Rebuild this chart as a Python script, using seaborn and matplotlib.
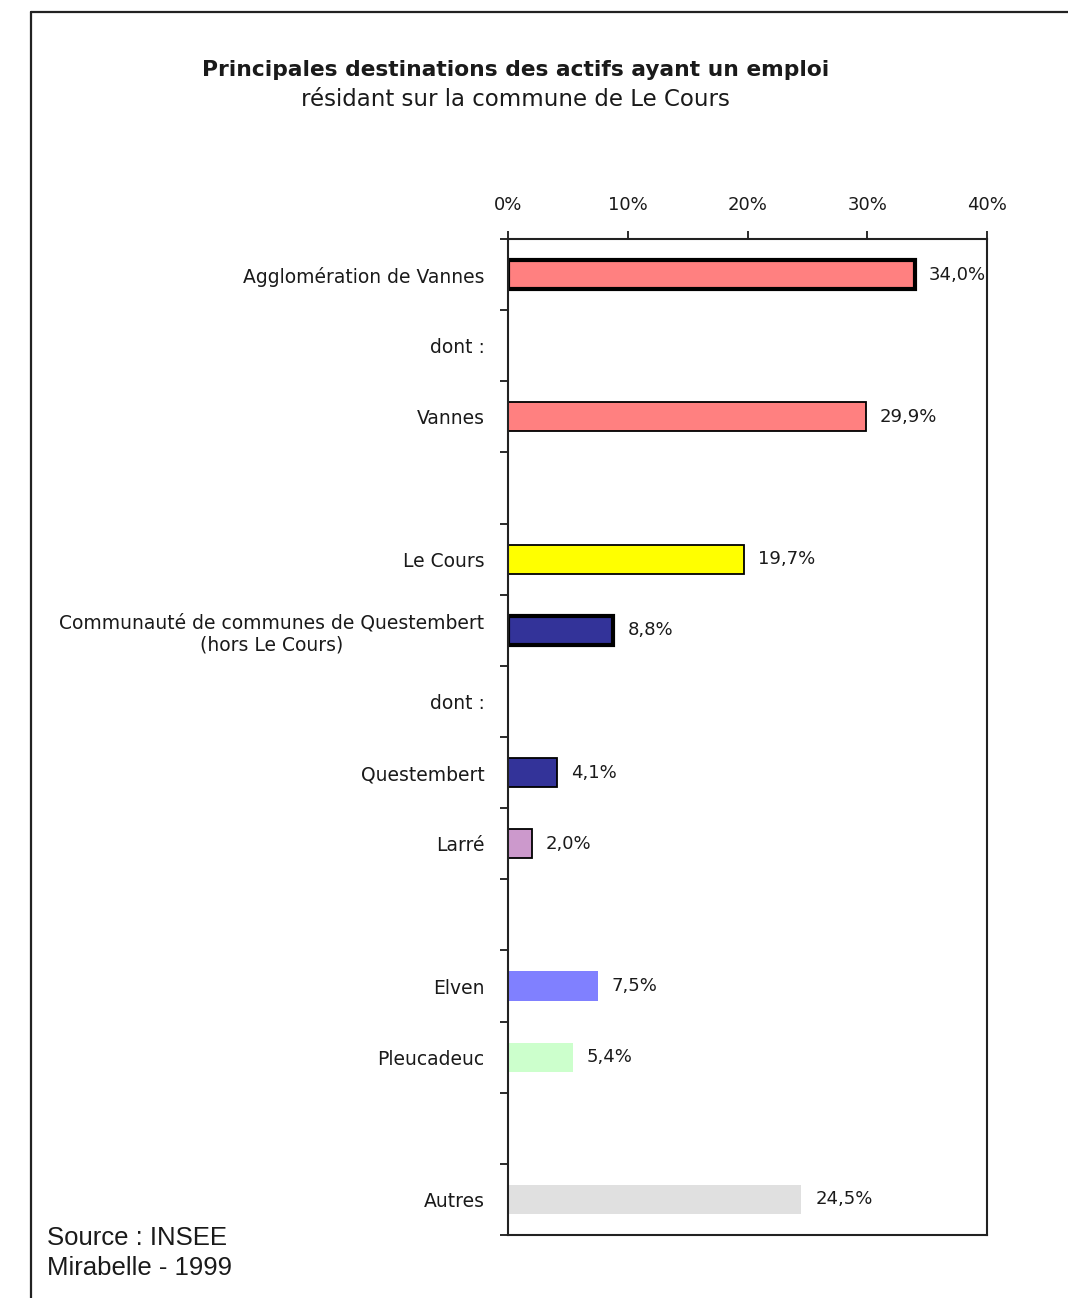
import numpy as np
import pandas as pd
import seaborn as sns
import matplotlib.pyplot as plt
from matplotlib.lines import Line2D
from matplotlib.ticker import NullFormatter

# bars (top to bottom)
destinations = ["Agglomération de Vannes", "Vannes", "Le Cours",
                "Communauté de communes de Questembert\n(hors Le Cours)",
                "Questembert", "Larré", "Elven", "Pleucadeuc", "Autres"]
shares = [34.0, 29.9, 19.7, 8.8, 4.1, 2.0, 7.5, 5.4, 24.5]

# rows of the chart, None = blank row
rows = ["Agglomération de Vannes", "dont :", "Vannes", None, "Le Cours",
        "Communauté de communes de Questembert\n(hors Le Cours)", "dont :",
        "Questembert", "Larré", None, "Elven", "Pleucadeuc", None, "Autres"]

x_ticks = [0, 10, 20, 30, 40]
x_tick_labels = ["0%", "10%", "20%", "30%", "40%"]

bar_colors = ["#FF8080", "#FF8080", "#FFFF00", "#333399", "#333399",
              "#CC99CC", "#8080FF", "#CCFFCC", "#E0E0E0"]
edge_widths = [3.0, 1.3, 1.3, 3.0, 1.3, 1.3, 0, 0, 0]

sns.set_style("ticks")
plt.rcParams['font.family'] = ['DejaVu Sans']
text_color = "#1a1a1a"

# unique keys for the categorical axis
order = [r if r in destinations else f"_row{i}" for i, r in enumerate(rows)]
row_labels = [r if r is not None else "" for r in rows]

df = pd.DataFrame({"destination": destinations, "share": shares})

fig = plt.figure(figsize=(10.68, 12.98), dpi=100)
ax = fig.add_axes([508 / 1068, 1 - 1235 / 1298, 479 / 1068, 996 / 1298])

sns.barplot(data=df, x="share", y="destination", order=order,
            hue="destination", palette=dict(zip(destinations, bar_colors)),
            width=0.41, saturation=1, legend=False, orient="h", ax=ax)

for p in ax.patches:
    idx = int(round(p.get_y() + p.get_height() / 2))
    key = order[idx]
    i = destinations.index(key)
    lw = edge_widths[i]
    if lw > 0:
        p.set_edgecolor("black")
        p.set_linewidth(lw)
    else:
        p.set_linewidth(0)
    val = shares[i]
    ax.annotate(f"{val:.1f}".replace(".", ",") + "%",
                xy=(val, idx), xytext=(10, 0), textcoords="offset points",
                va="center", ha="left", fontsize=13, color=text_color)

ax.set_xlim(0, 40)
ax.set_ylim(len(rows) - 0.5, -0.5)
ax.set_xlabel("")
ax.set_ylabel("")

# x axis on top
ax.xaxis.tick_top()
ax.set_xticks(x_ticks, labels=x_tick_labels)
ax.tick_params(axis="x", length=6, width=1.3, pad=12, labelsize=13,
               colors=text_color)

# y: tick marks between rows, labels on row centres
ax.set_yticks(np.arange(-0.5, len(rows), 1.0))
ax.yaxis.set_major_formatter(NullFormatter())
ax.set_yticks(np.arange(len(rows)), labels=row_labels, minor=True)
ax.tick_params(axis="y", which="major", length=6, width=1.3, colors=text_color)
ax.tick_params(axis="y", which="minor", length=0, pad=17, labelsize=13.5,
               labelcolor=text_color)
for lab in ax.get_yticklabels(minor=True):
    lab.set_multialignment("center")

for s in ax.spines.values():
    s.set_visible(True)
    s.set_color("#222222")
    s.set_linewidth(1.5)

fig.text(516 / 1068, 1 - 70 / 1298,
         "Principales destinations des actifs ayant un emploi",
         ha="center", va="center", fontsize=15.7, fontweight="bold",
         color=text_color)
fig.text(515 / 1068, 1 - 100 / 1298, "résidant sur la commune de Le Cours",
         ha="center", va="center", fontsize=16.5, color=text_color)

fig.text(47 / 1068, 1 - 1238 / 1298, "Source : INSEE", ha="left",
         va="center", fontsize=18.5, color=text_color,
         family=["Liberation Sans", "DejaVu Sans"])
fig.text(47 / 1068, 1 - 1268 / 1298, "Mirabelle - 1999", ha="left",
         va="center", fontsize=18.5, color=text_color,
         family=["Liberation Sans", "DejaVu Sans"])

# outer frame (top and left edges)
fy = 1 - 12 / 1298
fx = 31 / 1068
fig.add_artist(Line2D([fx, 1.0], [fy, fy], transform=fig.transFigure,
                      color="#222222", lw=1.6))
fig.add_artist(Line2D([fx, fx], [0.0, fy], transform=fig.transFigure,
                      color="#222222", lw=1.6))

fig.savefig("out.png", dpi=100)
